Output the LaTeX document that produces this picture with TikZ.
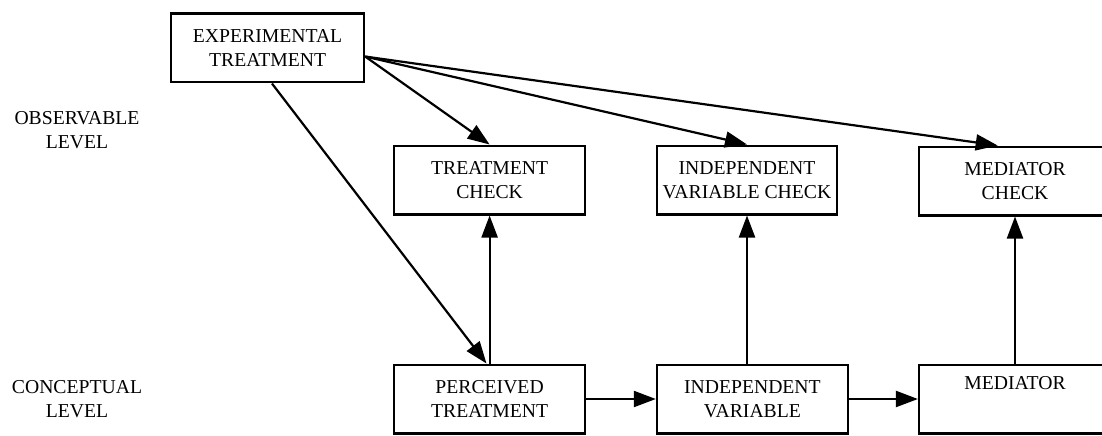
\documentclass[tikz,border=0pt]{standalone}
\usepackage{fontspec}
\setmainfont{Liberation Serif}
\usetikzlibrary{arrows.meta}

\begin{document}
\begin{tikzpicture}[>={Triangle[length=0.55cm,width=0.4cm]}, line width=0.055cm]
        \tikzstyle{every node} = [align=center, font=\fontsize{14}{17}\selectfont]
        \tikzstyle{box} = [draw, rectangle, minimum height=1.72cm, inner sep=0pt]
        \useasboundingbox (0,0) rectangle (27.55,10.875);
        \clip (0,0) rectangle (27.55,10.875);

        \node (obs) at (1.925,7.625) {OBSERVABLE\\LEVEL};
        \node (con) at (1.925,0.9) {CONCEPTUAL\\LEVEL};

        \node[box, minimum width=4.825cm] (exp) at (6.69,9.675) {EXPERIMENTAL\\TREATMENT};
        \node[box, minimum width=4.775cm] (tcheck) at (12.24,6.375) {TREATMENT\\CHECK};
        \node[box, minimum width=4.5cm] (icheck) at (18.675,6.375) {INDEPENDENT\\VARIABLE CHECK};
        \node[box, minimum width=4.8cm] (mcheck) at (25.375,6.35) {MEDIATOR\\CHECK};
        \node[box, minimum width=4.775cm] (perc) at (12.24,0.9) {PERCEIVED\\TREATMENT};
        \node[box, minimum width=4.775cm] (ivar) at (18.81,0.9) {INDEPENDENT\\VARIABLE};
        \node[box, minimum width=4.8cm] (med) at (25.375,0.9) {MEDIATOR\\\strut};

        \draw[->] (exp.-5) -- (tcheck.north);
        \draw[->] (exp.-5) -- (icheck.north);
        \draw[->] (exp.-5) -- (mcheck.116);
        \draw[->] (exp.-83) -- (perc.95);

        \foreach \from/\to in {perc/tcheck, med/mcheck}
            \draw[->] (\from.north) -- (\to.south);
        \draw[->] (ivar.north -| icheck) -- (icheck.south);

        \foreach \from/\to in {perc/ivar, ivar/med}
            \draw[->] (\from.east) -- (\to.west);
      \end{tikzpicture}
\end{document}
